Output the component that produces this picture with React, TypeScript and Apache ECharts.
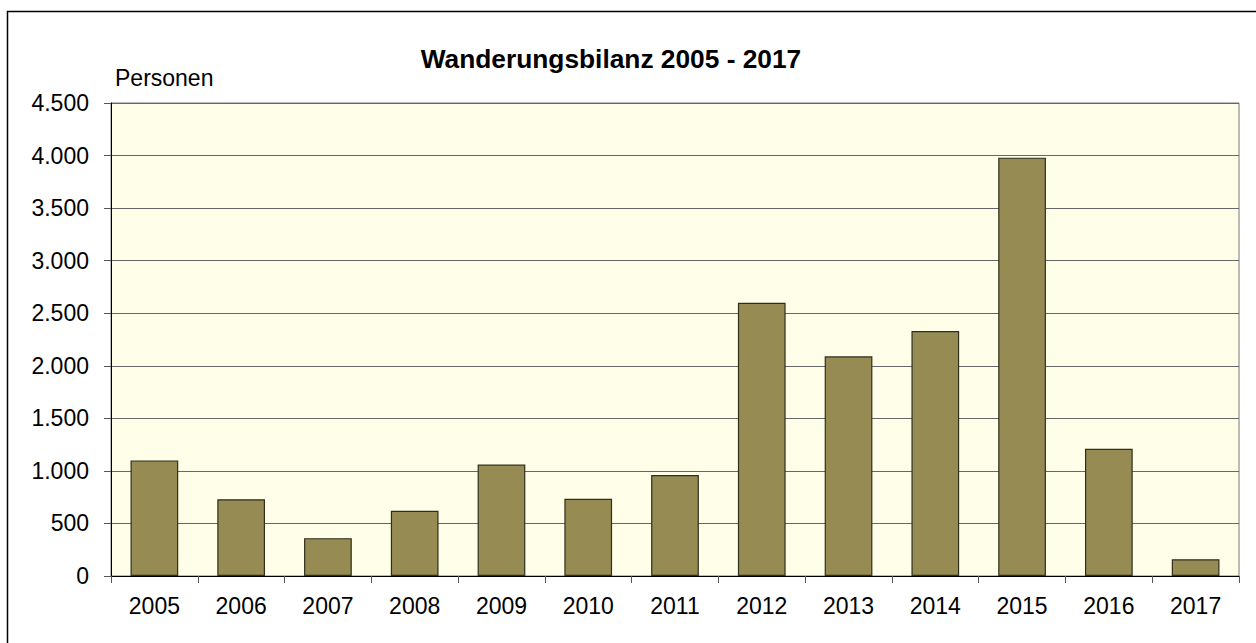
import React, { useEffect, useRef } from "react";
import * as echarts from "echarts";

const years = ["2005", "2006", "2007", "2008", "2009", "2010", "2011", "2012", "2013", "2014", "2015", "2016", "2017"];
const saldo = [1100, 730, 360, 620, 1060, 735, 960, 2600, 2090, 2330, 3980, 1210, 160];
const titleText = "Wanderungsbilanz 2005 - 2017";
const unitText = "Personen";

const FONT = "'Liberation Sans', Arial, Helvetica, sans-serif";

export default function App() {
  const ref = useRef<HTMLDivElement>(null);
  useEffect(() => {
    if (!ref.current) return;
    const chart = echarts.init(ref.current, undefined, { renderer: "svg" });
    chart.setOption({
      animation: false,
      backgroundColor: "#ffffff",
      textStyle: { fontFamily: FONT },
      grid: {
        left: 111,
        top: 103,
        right: 17,
        bottom: 67,
        show: true,
        backgroundColor: "#FFFFE9",
        borderColor: "#777777",
        borderWidth: 1,
      },
      graphic: [
        {
          type: "rect",
          shape: { x: 7.5, y: 11.5, width: 1270, height: 650 },
          style: { fill: "none", stroke: "#000000", lineWidth: 1.5 },
          silent: true,
        },
        {
          type: "text",
          x: 611,
          y: 72,
          style: {
            text: titleText,
            font: `bold 26.3px ${FONT}`,
            fill: "#000000",
            align: "center",
            verticalAlign: "bottom",
          },
        },
        {
          type: "text",
          x: 115,
          y: 89,
          style: {
            text: unitText,
            font: `23px ${FONT}`,
            fill: "#000000",
            align: "left",
            verticalAlign: "bottom",
          },
        },
      ],
      xAxis: {
        type: "category",
        data: years,
        axisLine: { show: true, lineStyle: { color: "#000000", width: 1 } },
        axisTick: { show: true, length: 7, alignWithLabel: false, lineStyle: { color: "#555555" } },
        axisLabel: { color: "#000000", fontSize: 23, fontFamily: FONT, margin: 18 },
      },
      yAxis: {
        type: "value",
        min: 0,
        max: 4500,
        interval: 500,
        axisLine: { show: true, lineStyle: { color: "#000000", width: 1 } },
        axisTick: { show: true, length: 7, lineStyle: { color: "#555555" } },
        axisLabel: {
          color: "#000000",
          fontSize: 23,
          fontFamily: FONT,
          margin: 22,
          formatter: (v: number) => v.toLocaleString("de-DE"),
        },
        splitLine: { show: true, lineStyle: { color: "#666666", width: 1 } },
      },
      series: [
        {
          type: "bar",
          data: saldo,
          barCategoryGap: "45%",
          itemStyle: { color: "#958B53", borderColor: "#2f2f1c", borderWidth: 1.2 },
        },
      ],
    });
    return () => chart.dispose();
  }, []);
  return (
    <div
      ref={ref}
      style={{ position: "fixed", left: 0, top: 0, width: 1256, height: 643 }}
    />
  );
}
